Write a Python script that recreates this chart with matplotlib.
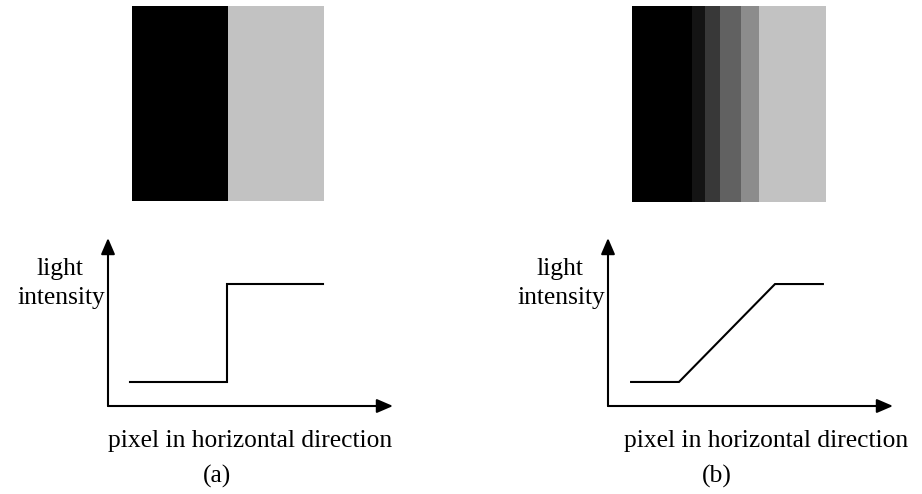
import numpy as np
import matplotlib.pyplot as plt

# column bands of the two test images (pixel columns, grey level 0=black 1=white)
edges_a = [0, 97, 193]
levels_a = [0.0, 0.76]
edges_b = [0, 60, 73, 88, 108, 126, 193]
levels_b = [0.0, 0.08, 0.22, 0.38, 0.55, 0.76]

# intensity profiles
x_a = [0.77, 4.18, 4.18, 7.54]
y_a = [0.143, 0.143, 0.726, 0.726]
x_b = [0.81, 2.49, 5.86, 7.54]
y_b = [0.143, 0.143, 0.726, 0.726]

W, H = 922, 494
plt.rcParams['font.family'] = ['Liberation Serif', 'DejaVu Serif']
fig = plt.figure(figsize=(W / 100, H / 100), dpi=100)


def box(x0, y0, x1, y1):
    # pixel box -> figure rect
    return [x0 / W, 1 - y1 / H, (x1 - x0) / W, (y1 - y0) / H]


def fpos(x, y):
    return x / W, 1 - y / H


def draw_image(rect, edges, levels):
    ax = fig.add_axes(rect)
    row = np.repeat(levels, np.diff(edges))
    img = np.tile(row, (195, 1))
    ax.imshow(img, cmap='gray', vmin=0, vmax=1, aspect='auto', interpolation='nearest')
    ax.axis('off')


def draw_profile(rect, xs, ys):
    ax = fig.add_axes(rect)
    ax.set_xlim(0, 10)
    ax.set_ylim(0, 1)
    ax.axis('off')
    arrow = dict(arrowstyle='-|>,head_length=0.65,head_width=0.28', color='black',
                 lw=1.5, mutation_scale=15, shrinkA=0, shrinkB=0)
    ax.annotate('', xy=(10, 0), xytext=(0, 0), arrowprops=arrow, annotation_clip=False)
    ax.annotate('', xy=(0, 1), xytext=(0, 0), arrowprops=arrow, annotation_clip=False)
    ax.plot(xs, ys, color='black', lw=1.5, solid_joinstyle='miter', clip_on=False)


draw_image(box(132, 6, 324, 201), edges_a, levels_a)
draw_image(box(632, 6, 825, 202), edges_b, levels_b)

draw_profile(box(108, 238, 393, 406), x_a, y_a)
draw_profile(box(608, 238, 893, 406), x_b, y_b)

fs = 18.4
for dx, tag in [(0, '(a)'), (500, '(b)')]:
    fig.text(*fpos(60 + dx, 275), 'light', ha='center', va='baseline', fontsize=fs)
    fig.text(*fpos(61 + dx, 304), 'intensity', ha='center', va='baseline', fontsize=fs)
    fig.text(*fpos(250 + dx + (16 if dx else 0), 447), 'pixel in horizontal direction',
             ha='center', va='baseline', fontsize=fs)
    fig.text(*fpos(217 + dx, 483), tag, ha='center', va='baseline', fontsize=fs)

fig.savefig('out.png', dpi=100)
